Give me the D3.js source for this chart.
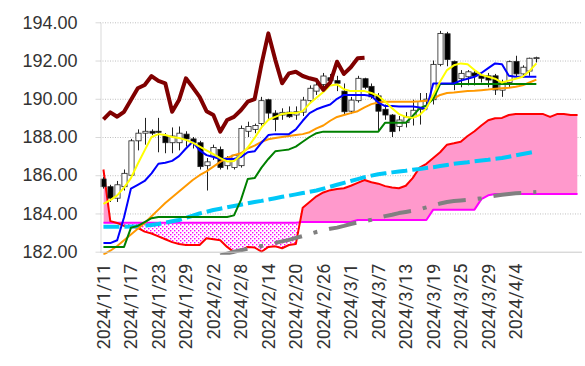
<!DOCTYPE html>
<html><head><meta charset="utf-8">
<script src="https://cdn.jsdelivr.net/npm/d3@7/dist/d3.min.js"></script>
<style>body{margin:0;background:#fff}svg{display:block}</style>
</head><body>
<svg id="c" width="585" height="366"></svg>
<script>
const dates = ["2024/1/11","2024/1/12","2024/1/15","2024/1/16","2024/1/17","2024/1/18","2024/1/19","2024/1/22","2024/1/23","2024/1/24","2024/1/25","2024/1/26","2024/1/29","2024/1/30","2024/1/31","2024/2/1","2024/2/2","2024/2/5","2024/2/6","2024/2/7","2024/2/8","2024/2/9","2024/2/12","2024/2/13","2024/2/14","2024/2/15","2024/2/16","2024/2/19","2024/2/20","2024/2/21","2024/2/22","2024/2/23","2024/2/26","2024/2/27","2024/2/28","2024/2/29","2024/3/1","2024/3/4","2024/3/5","2024/3/6","2024/3/7","2024/3/8","2024/3/11","2024/3/12","2024/3/13","2024/3/14","2024/3/15","2024/3/18","2024/3/19","2024/3/20","2024/3/21","2024/3/22","2024/3/25","2024/3/26","2024/3/27","2024/3/28","2024/3/29","2024/4/1","2024/4/2","2024/4/3","2024/4/4","2024/4/5","2024/4/8","2024/4/9","2024/4/10","2024/4/11","2024/4/12","2024/4/15","2024/4/16","2024/4/17"];
const labelIdx = [0,4,8,12,16,20,24,28,32,36,40,44,48,52,56,60];
const yTicks = [182,184,186,188,190,192,194];

const open  = [185.8,185.4,184.8,185.4,186.0,187.8,188.2,188.3,188.3,188.05,187.7,187.7,188.15,187.9,187.7,186.5,187.0,187.35,186.5,186.4,186.5,188.3,188.4,188.7,189.95,189.25,189.15,189.3,189.15,189.3,189.9,190.4,190.75,191.1,190.95,190.4,189.35,189.9,191.05,190.65,190.15,189.45,189.15,188.55,188.75,189.05,189.45,189.9,189.95,191.8,193.4,191.95,191.05,191.15,191.35,191.2,191.2,191.2,190.45,190.85,191.95,191.3,191.45,192.1];
const high  = [185.9,185.5,185.7,186.3,187.9,188.4,189.0,188.4,189.0,188.2,188.5,188.55,188.3,188.0,187.8,186.9,187.6,187.5,187.0,187.1,188.6,188.8,188.7,190.1,190.0,189.4,189.5,189.6,189.6,190.1,190.7,191.0,191.35,191.3,191.2,190.8,190.1,191.2,191.1,190.8,190.3,189.7,189.2,189.1,189.3,189.95,190.3,190.3,192.0,193.55,193.5,192.0,191.5,191.5,191.5,191.4,191.35,191.3,191.0,192.0,192.25,191.75,192.15,192.2];
const low   = [185.3,184.6,184.6,185.2,185.9,187.3,187.6,188.1,187.2,187.15,187.15,187.3,187.5,187.4,186.3,185.2,186.8,186.3,186.3,186.3,186.4,188.0,188.2,188.6,188.9,188.3,188.9,189.0,188.9,189.1,189.8,190.2,190.6,190.7,190.4,189.2,189.2,189.8,190.5,190.0,188.3,188.9,188.0,188.3,188.5,188.6,188.65,189.6,189.7,191.7,191.7,190.45,190.6,190.7,190.7,190.85,190.6,190.2,190.1,190.6,191.1,191.1,191.2,191.9];
const close = [185.4,184.8,185.5,186.1,187.8,188.2,188.3,188.2,188.25,187.7,188.05,188.2,187.9,187.7,186.45,186.7,187.45,186.4,186.9,187.05,188.45,188.55,188.6,189.9,189.25,188.92,189.29,189.06,189.32,189.93,190.55,190.72,191.19,190.94,190.81,189.32,189.93,191.07,190.6,190.1,189.35,189.15,188.28,188.89,189.05,189.4,189.85,189.98,191.8,193.42,192.05,190.81,191.33,191.41,191.19,191.07,190.98,190.46,190.85,191.94,191.3,191.65,192.12,192.15];

const tenkan = [182.45,182.45,182.6,183.8,185.3,185.5,185.7,186.1,186.6,186.65,186.75,187.0,187.4,187.75,187.3,187.05,186.95,186.85,186.85,186.85,186.95,187.2,187.25,187.7,188.1,188.15,188.15,188.15,188.4,188.85,189.25,189.45,189.58,189.7,190.0,190.2,190.2,190.2,190.2,190.15,189.8,189.62,189.62,189.6,189.6,189.6,189.55,189.45,190.8,190.8,190.8,190.8,190.95,191.05,191.15,191.35,191.6,191.85,191.8,191.2,191.15,191.15,191.15,191.15];
const kijun = [182.25,182.25,182.25,182.25,183.25,183.35,183.55,183.75,183.82,183.82,183.82,183.82,183.82,183.82,183.82,183.82,183.82,183.82,183.82,183.9,184.7,185.8,185.85,186.4,186.85,187.25,187.3,187.35,187.5,187.75,188.0,188.2,188.28,188.28,188.28,188.28,188.28,188.28,188.28,188.28,188.28,188.75,188.75,188.75,188.75,189.1,189.5,189.65,190.0,190.77,190.77,190.77,190.77,190.77,190.77,190.77,190.77,190.77,190.77,190.77,190.77,190.77,190.77,190.77];
const ma5 = [184.5,184.7,184.95,185.35,185.85,186.6,187.3,188.0,188.15,188.1,188.0,187.95,187.85,187.7,187.5,187.3,187.1,186.9,186.72,186.75,187.05,187.45,187.95,188.5,188.9,189.05,189.2,189.25,189.25,189.35,189.75,190.05,190.35,190.7,190.75,190.5,190.4,190.4,190.4,190.3,190.15,189.85,189.5,189.2,189.05,189.0,189.15,189.5,190.2,190.9,191.5,191.75,191.85,191.8,191.5,191.25,191.15,191.05,190.85,190.95,191.05,191.15,191.45,191.85];
const ma25 = [181.85,182.05,182.3,182.6,182.9,183.2,183.5,183.85,184.2,184.55,184.85,185.15,185.45,185.75,186.0,186.2,186.45,186.7,186.9,187.05,187.15,187.4,187.55,187.75,187.88,187.95,188.0,188.05,188.1,188.15,188.25,188.45,188.6,188.85,189.05,189.15,189.25,189.35,189.55,189.72,189.8,189.85,189.85,189.85,189.85,189.85,189.87,189.9,190.0,190.2,190.3,190.33,190.37,190.4,190.42,190.45,190.48,190.52,190.55,190.58,190.63,190.7,190.85,191.0];
const ma75 = [183.3,183.3,183.3,183.31,183.32,183.33,183.36,183.4,183.45,183.52,183.59,183.66,183.77,183.88,184.0,184.09,184.18,184.25,184.32,184.39,184.46,184.53,184.6,184.66,184.73,184.8,184.87,184.93,185.0,185.07,185.13,185.2,185.3,185.4,185.5,185.6,185.7,185.8,185.9,185.98,186.05,186.1,186.15,186.2,186.24,186.29,186.33,186.38,186.42,186.48,186.54,186.6,186.64,186.68,186.73,186.77,186.81,186.86,186.9,186.97,187.04,187.11,187.18,187.25];
const ma200 = [null,null,null,null,null,null,null,null,null,null,null,null,null,null,null,null,null,181.8,181.9,182.0,182.08,182.15,182.22,182.3,182.38,182.46,182.54,182.62,182.72,182.82,182.93,183.03,183.12,183.2,183.26,183.35,183.45,183.53,183.6,183.67,183.77,183.86,183.93,184.02,184.08,184.14,184.22,184.32,184.42,184.52,184.6,184.65,184.68,184.71,184.75,184.8,184.87,184.93,184.98,185.02,185.06,185.08,185.1,185.12];
const spanA = [186.3,183.6,183.5,183.35,183.3,183.25,183.05,182.95,182.8,182.65,182.5,182.4,182.35,182.35,182.35,182.7,182.65,182.6,182.25,181.98,182.05,182.25,182.22,182.0,182.25,182.28,182.18,182.35,182.4,184.3,184.6,184.9,185.1,185.22,185.28,185.32,185.45,185.6,185.75,185.63,185.56,185.43,185.36,185.32,185.45,185.85,186.4,186.6,186.9,187.2,187.6,187.67,187.75,188.05,188.3,188.6,188.88,188.98,189.0,189.15,189.2,189.2,189.2,189.2,189.2,189.05,189.2,189.2,189.15,189.15];
const spanB = [183.52,183.52,183.52,183.52,183.52,183.52,183.52,183.52,183.52,183.52,183.52,183.52,183.52,183.52,183.52,183.52,183.52,183.52,183.52,183.52,183.52,183.52,183.52,183.52,183.52,183.52,183.52,183.52,183.52,183.56,183.56,183.56,183.56,183.56,183.56,183.56,183.56,183.66,183.66,183.66,183.66,183.66,183.66,183.66,183.66,183.66,183.66,183.66,184.2,184.2,184.2,184.2,184.2,184.2,184.2,184.75,184.95,185.02,185.02,185.02,185.02,185.02,185.02,185.02,185.02,185.02,185.02,185.02,185.02,185.02];
const CHIKOU_SHIFT = 25;
const chikou = close.slice(CHIKOU_SHIFT);

const svg = d3.select('#c');
const L = 100, R = 581, T = 22.3, B = 251.7;
const x = d3.scaleBand().domain(d3.range(dates.length)).range([L, R]);
const cx = i => x(i) + x.bandwidth() / 2;
const y = d3.scaleLinear().domain([182, 194]).range([B, T]);

const defs = svg.append('defs');
defs.append('clipPath').attr('id', 'plot').append('rect')
  .attr('x', L).attr('y', T - 4).attr('width', R - L + 2).attr('height', B - T + 7);
const pat = defs.append('pattern').attr('id', 'dots').attr('patternUnits', 'userSpaceOnUse')
  .attr('width', 4).attr('height', 4);
pat.append('rect').attr('width', 4).attr('height', 4).attr('fill', '#fff');
pat.append('rect').attr('x', 0).attr('y', 0).attr('width', 1.4).attr('height', 1.4).attr('fill', '#FF00FF');
pat.append('rect').attr('x', 2).attr('y', 2).attr('width', 1.4).attr('height', 1.4).attr('fill', '#FF00FF');

const areaBelowA = d3.area().x((d, i) => cx(i)).y0(B + 10).y1(d => y(d));
const areaAboveA = d3.area().x((d, i) => cx(i)).y0(T - 10).y1(d => y(d));
defs.append('clipPath').attr('id', 'belowA').append('path').attr('d', areaBelowA(spanA));
defs.append('clipPath').attr('id', 'aboveA').append('path').attr('d', areaAboveA(spanA));

// gridlines
svg.append('g').attr('transform', `translate(${L},0)`)
  .call(d3.axisLeft(y).tickValues(yTicks.slice(1)).tickSize(-(R - L + 1)).tickFormat(''))
  .call(g => g.select('.domain').remove())
  .call(g => g.selectAll('line').attr('stroke', '#BFBFBF').attr('stroke-dasharray', '1,1.5'));

const plot = svg.append('g').attr('clip-path', 'url(#plot)');

// cloud
plot.append('g').attr('clip-path', 'url(#belowA)').append('path')
  .attr('d', d3.area().x((d, i) => cx(i)).y0(T - 10).y1(d => y(d))(spanB))
  .attr('fill', '#FF99CC');
plot.append('g').attr('clip-path', 'url(#aboveA)').append('path')
  .attr('d', d3.area().x((d, i) => cx(i)).y0(B + 10).y1(d => y(d))(spanB))
  .attr('fill', 'url(#dots)');

const line = d3.line().defined(d => d != null).x((d, i) => cx(i)).y(d => y(d));
function drawLine(data, color, w, dash) {
  const p = plot.append('path').attr('d', line(data)).attr('fill', 'none')
    .attr('stroke', color).attr('stroke-width', w).attr('stroke-linejoin', 'round');
  if (dash) p.attr('stroke-dasharray', dash);
  return p;
}
drawLine(spanB, '#FF00FF', 2);
drawLine(spanA, '#FF0000', 2);
drawLine(ma200, '#808080', 4, '28,12,4,12');
drawLine(ma75, '#00C8F8', 4, '16,5');

// candles
const bw = 5.2;
const cg = plot.append('g');
cg.selectAll('line.wick').data(open).join('line').attr('class', 'wick')
  .attr('x1', (d, i) => Math.round(cx(i)) + 0.5).attr('x2', (d, i) => Math.round(cx(i)) + 0.5)
  .attr('y1', (d, i) => y(high[i])).attr('y2', (d, i) => y(low[i]))
  .attr('stroke', '#222').attr('stroke-width', 1);
cg.selectAll('rect.body').data(open).join('rect').attr('class', 'body')
  .attr('x', (d, i) => Math.round(cx(i)) + 0.5 - bw / 2)
  .attr('y', (d, i) => y(Math.max(open[i], close[i])))
  .attr('width', bw)
  .attr('height', (d, i) => Math.max(1, Math.abs(y(open[i]) - y(close[i]))))
  .attr('fill', (d, i) => close[i] >= open[i] ? '#fff' : '#000')
  .attr('stroke', '#222').attr('stroke-width', 0.8);

drawLine(ma25, '#FF9900', 2);
drawLine(kijun, '#008000', 2);
drawLine(tenkan, '#0000FF', 2);
drawLine(ma5, '#FFFF00', 2);
drawLine(chikou, '#800000', 4);

// y axis
const ya = svg.append('g').attr('transform', `translate(${L + 0.5},0)`)
  .call(d3.axisLeft(y).tickValues(yTicks).tickSize(5).tickSizeOuter(0).tickPadding(18).tickFormat(d3.format('.2f')));
ya.select('.domain').attr('stroke', '#D9D9D9');
ya.selectAll('line').attr('stroke', '#D9D9D9');
ya.selectAll('text').attr('font-family', '"Liberation Sans", Arial, sans-serif').attr('font-size', 18).attr('fill', '#333');

// x axis
const xa = svg.append('g').attr('transform', `translate(0,${B})`)
  .call(d3.axisBottom(x).tickValues(labelIdx).tickSize(0).tickSizeOuter(0).tickFormat(i => dates[i]));
xa.select('.domain').attr('stroke', '#C8C8C8').attr('d', `M${L},0.5H${R + 1}`);
xa.selectAll('text')
  .attr('transform', 'rotate(-90)').attr('text-anchor', 'end')
  .attr('x', -12).attr('y', 0).attr('dy', '0.36em')
  .attr('font-family', 'Roboto, "Liberation Sans", Arial, sans-serif').attr('font-size', 18).attr('fill', '#333');
</script>
</body></html>
